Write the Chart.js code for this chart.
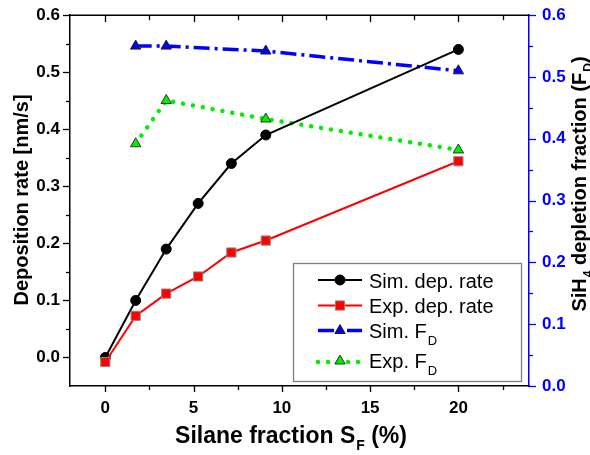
<!DOCTYPE html>
<html>
<head>
<meta charset="utf-8">
<script src="https://cdn.jsdelivr.net/npm/chart.js@4.4.0/dist/chart.umd.min.js"></script>
<style>
  html, body { margin: 0; padding: 0; background: #ffffff; }
  #wrap { width: 590px; height: 455px; }
</style>
</head>
<body>
<div id="wrap"><canvas id="c" width="590" height="455"></canvas></div>
<script>
// ---- data ----
const silaneFraction = [0, 1.72, 3.45, 5.26, 7.14, 9.09, 20];
const simDepRate = [0.0, 0.100, 0.190, 0.270, 0.340, 0.390, 0.540];
const expDepRate = [-0.008, 0.073, 0.112, 0.142, 0.184, 0.205, 0.344];
const fdSilaneFraction = [1.72, 3.45, 9.09, 20];
const simFD = [0.550, 0.550, 0.542, 0.510];
const expFD = [0.392, 0.462, 0.432, 0.382];

const xMajorTicks = [0, 5, 10, 15, 20];
const xMinorTicks = [2.5, 7.5, 12.5, 17.5, 22.5];
const yLeftMajorTicks = [0.0, 0.1, 0.2, 0.3, 0.4, 0.5, 0.6];
const yLeftMinorTicks = [0.05, 0.15, 0.25, 0.35, 0.45, 0.55];
const yRightMajorTicks = [0.0, 0.1, 0.2, 0.3, 0.4, 0.5, 0.6];
const yRightMinorTicks = [0.05, 0.15, 0.25, 0.35, 0.45, 0.55];

const legendLabels = [
  [{t: 'Sim. dep. rate'}],
  [{t: 'Exp. dep. rate'}],
  [{t: 'Sim. F'}, {t: 'D', sub: true}],
  [{t: 'Exp. F'}, {t: 'D', sub: true}]
];

const FONT = '"Liberation Sans", Arial, Helvetica, sans-serif';
const BLUE = '#0000ff';
const GREEN = '#00ee00';

function pts(xs, ys) { return xs.map((x, i) => ({x: x, y: ys[i]})); }

const datasets = [
  {
    label: 'Sim. dep. rate', data: pts(silaneFraction, simDepRate), yAxisID: 'y',
    borderColor: '#000000', backgroundColor: '#000000', borderWidth: 2,
    pointStyle: 'circle', pointRadius: 5, pointBackgroundColor: '#000000',
    pointBorderColor: '#000000', pointBorderWidth: 1, order: 2
  },
  {
    label: 'Exp. dep. rate', data: pts(silaneFraction, expDepRate), yAxisID: 'y',
    borderColor: '#ff0000', backgroundColor: '#ff0000', borderWidth: 2,
    pointStyle: 'rect', pointRadius: 6.5, pointBackgroundColor: '#ff0000',
    pointBorderColor: '#888888', pointBorderWidth: 1, order: 1
  },
  {
    label: 'Sim. F_D', data: pts(fdSilaneFraction, simFD), yAxisID: 'y1',
    borderColor: BLUE, backgroundColor: BLUE, borderWidth: 3.5,
    borderDash: [16, 5, 3, 5],
    pointStyle: 'triangle', pointRadius: 6, pointBackgroundColor: BLUE,
    pointBorderColor: '#222222', pointBorderWidth: 1, order: 3
  },
  {
    label: 'Exp. F_D', data: pts(fdSilaneFraction, expFD), yAxisID: 'y1',
    borderColor: GREEN, backgroundColor: GREEN, borderWidth: 4.5,
    borderDash: [0.01, 10], borderCapStyle: 'round',
    pointStyle: 'triangle', pointRadius: 6, pointBackgroundColor: GREEN,
    pointBorderColor: '#333333', pointBorderWidth: 1, order: 4
  }
];

function drawRich(ctx, segs, x, y, rot, size, weight, color) {
  const subSize = Math.round(size * 0.62);
  ctx.save();
  ctx.translate(x, y);
  ctx.rotate(rot);
  ctx.fillStyle = color;
  ctx.textBaseline = 'alphabetic';
  ctx.textAlign = 'left';
  let total = 0;
  const widths = segs.map(s => {
    ctx.font = weight + ' ' + (s.sub ? subSize : size) + 'px ' + FONT;
    const w = ctx.measureText(s.t).width + (s.sub ? 1 : 0);
    total += w;
    return w;
  });
  let cx = -total / 2;
  segs.forEach((s, i) => {
    ctx.font = weight + ' ' + (s.sub ? subSize : size) + 'px ' + FONT;
    ctx.fillText(s.t, cx + (s.sub ? 1 : 0), s.sub ? size * 0.3 : 0);
    cx += widths[i];
  });
  ctx.restore();
}

const decorPlugin = {
  id: 'decor',
  afterDraw(chart) {
    const ctx = chart.ctx;
    const a = chart.chartArea;
    const xs = chart.scales.x, yl = chart.scales.y, yr = chart.scales.y1;
    ctx.save();
    // top frame line
    ctx.strokeStyle = '#000000';
    ctx.lineWidth = 1.5;
    ctx.beginPath();
    ctx.moveTo(a.left - 0.75, a.top);
    ctx.lineTo(a.right, a.top);
    ctx.stroke();
    // ticks
    ctx.lineWidth = 1.3;
    const tick = (x1, y1, x2, y2) => { ctx.beginPath(); ctx.moveTo(x1, y1); ctx.lineTo(x2, y2); ctx.stroke(); };
    xMajorTicks.forEach(v => {
      const px = Math.round(xs.getPixelForValue(v)) + 0.5;
      tick(px, a.bottom, px, a.bottom + 6);
      tick(px, a.top, px, a.top + 7);
    });
    xMinorTicks.forEach(v => {
      const px = Math.round(xs.getPixelForValue(v)) + 0.5;
      tick(px, a.bottom, px, a.bottom + 4);
      tick(px, a.top, px, a.top + 5);
    });
    yLeftMajorTicks.forEach(v => {
      const py = Math.round(yl.getPixelForValue(v)) + 0.5;
      tick(a.left, py, a.left - 7, py);
    });
    yLeftMinorTicks.forEach(v => {
      const py = Math.round(yl.getPixelForValue(v)) + 0.5;
      tick(a.left, py, a.left - 4, py);
    });
    ctx.strokeStyle = BLUE;
    yRightMajorTicks.forEach(v => {
      const py = Math.round(yr.getPixelForValue(v)) + 0.5;
      tick(a.right, py, a.right + 7, py);
    });
    yRightMinorTicks.forEach(v => {
      const py = Math.round(yr.getPixelForValue(v)) + 0.5;
      tick(a.right, py, a.right + 4, py);
    });
    ctx.restore();

    // axis titles
    drawRich(ctx, [{t: 'Silane fraction S'}, {t: 'F', sub: true}, {t: ' (%)'}],
      291, 443, 0, 23, 'bold', '#000000');
    drawRich(ctx, [{t: 'Deposition rate [nm/s]'}], 28, 200, -Math.PI / 2, 20, 'bold', '#000000');
    drawRich(ctx, [{t: 'SiH'}, {t: '4', sub: true}, {t: ' depletion fraction (F'}, {t: 'D', sub: true}, {t: ')'}],
      586, 184, -Math.PI / 2, 20, 'bold', '#000000');

    // legend
    const box = {l: 293, t: 263, r: 521, b: 381};
    ctx.save();
    ctx.fillStyle = '#ffffff';
    ctx.fillRect(box.l, box.t, box.r - box.l, box.b - box.t);
    ctx.strokeStyle = '#808080';
    ctx.lineWidth = 1.3;
    ctx.strokeRect(box.l + 0.5, box.t + 0.5, box.r - box.l, box.b - box.t);
    const rowsY = [280, 305.5, 330.5, 361];
    const textY = [288, 312.5, 338, 368];
    chart.data.datasets.forEach((ds, i) => {
      const y = rowsY[i];
      ctx.save();
      ctx.strokeStyle = ds.borderColor;
      ctx.lineWidth = ds.borderWidth;
      ctx.setLineDash(ds.borderDash || []);
      ctx.lineCap = ds.borderCapStyle || 'butt';
      ctx.beginPath();
      if (i === 3) {
        ctx.moveTo(318, y + 1); ctx.lineTo(362, y + 1);
      } else {
        ctx.moveTo(318, y); ctx.lineTo(362, y);
      }
      ctx.stroke();
      ctx.restore();
      ctx.save();
      ctx.fillStyle = ds.pointBackgroundColor;
      ctx.strokeStyle = ds.pointBorderColor;
      ctx.lineWidth = ds.pointBorderWidth;
      Chart.helpers.drawPoint(ctx, {pointStyle: ds.pointStyle, radius: ds.pointRadius, rotation: 0, borderWidth: ds.pointBorderWidth}, 340, y);
      ctx.restore();
      // text
      let cx = 369;
      legendLabels[i].forEach(s => {
        const size = s.sub ? 13 : 20;
        ctx.font = 'normal ' + size + 'px ' + FONT;
        ctx.fillStyle = '#000000';
        ctx.textBaseline = 'alphabetic';
        ctx.textAlign = 'left';
        ctx.fillText(s.t, cx + (s.sub ? 1 : 0), textY[i] + (s.sub ? 7 : 0));
        cx += ctx.measureText(s.t).width;
      });
    });
    ctx.restore();
  }
};

const tickFont = {family: FONT, size: 17, weight: 'bold'};

new Chart(document.getElementById('c'), {
  type: 'line',
  data: {datasets: datasets},
  options: {
    responsive: false,
    animation: false,
    devicePixelRatio: 1,
    layout: {padding: {top: 15, left: 0, right: 0, bottom: 0}},
    plugins: {legend: {display: false}, tooltip: {enabled: false}, title: {display: false}},
    scales: {
      x: {
        type: 'linear', min: -2, max: 24, position: 'bottom',
        grid: {display: false},
        border: {display: true, color: '#000000', width: 1.5},
        ticks: {color: '#000000', font: tickFont, padding: 4,
                callback: v => String(v)},
        afterBuildTicks: s => { s.ticks = xMajorTicks.map(v => ({value: v})); },
        afterFit: s => { s.height = 69; }
      },
      y: {
        type: 'linear', min: -0.05, max: 0.6, position: 'left',
        grid: {display: false},
        border: {display: true, color: '#000000', width: 1.5},
        ticks: {color: '#000000', font: tickFont, padding: 2,
                callback: v => Number(v).toFixed(1)},
        afterBuildTicks: s => { s.ticks = yLeftMajorTicks.map(v => ({value: v})); },
        afterFit: s => { s.width = 70; }
      },
      y1: {
        type: 'linear', min: 0, max: 0.6, position: 'right',
        grid: {display: false},
        border: {display: true, color: BLUE, width: 1.5},
        ticks: {color: BLUE, font: tickFont, padding: 5,
                callback: v => Number(v).toFixed(1)},
        afterBuildTicks: s => { s.ticks = yRightMajorTicks.map(v => ({value: v})); },
        afterFit: s => { s.width = 61; }
      }
    }
  },
  plugins: [decorPlugin]
});
</script>
</body>
</html>
